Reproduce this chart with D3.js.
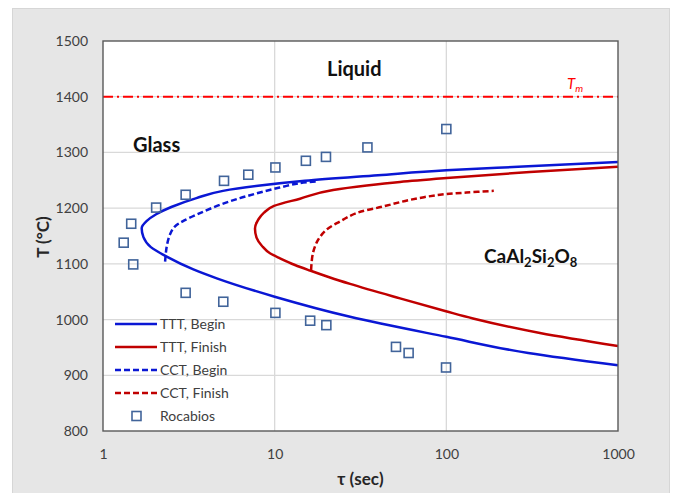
<!DOCTYPE html>
<html><head><meta charset="utf-8">
<script src="https://cdn.jsdelivr.net/npm/d3@7"></script>
<style>
html,body{margin:0;padding:0;background:#fff;}
svg{display:block;}
</style></head>
<body>
<script>
// ---- data ----
const xTicks = [1, 10, 100, 1000];
const yTicks = [800, 900, 1000, 1100, 1200, 1300, 1400, 1500];
const meltT = 1400;

const tttBegin = [
  [1000,1283],[300,1275],[100,1268],[40,1259],[15,1249],[8,1240],[5,1231],[3.5,1218],
  [2.5,1202],[2.04,1189],[1.8,1177],[1.68,1164],[1.72,1148],[1.9,1130],[2.35,1113],
  [3.36,1090],[4.6,1074],[10,1041],[27.5,1005],[100,969],[300,940],[1000,918]
];
const tttFinish = [
  [1000,1274.4],[307,1265],[100.5,1254],[53.7,1247],[34.4,1240.6],[21.9,1232.6],[14.05,1217],
  [9.91,1204],[8.67,1192],[8.05,1180],[7.68,1163],
  [7.84,1147],[8.44,1132],[9.39,1119],[10.74,1110],[13.13,1098],[16.06,1088],[21,1075.5],
  [27.5,1064],[53.7,1038],[99.5,1015],[143,1002],[351,976],[1000,952.6]
];
const cctBegin = [
  [2.30,1104],[2.35,1131],[2.45,1152],[2.62,1167],[2.94,1177],[3.67,1191],[4.8,1206],
  [6.27,1218],[8.2,1228],[10.7,1237],[14,1245],[17.5,1248]
];
const cctFinish = [
  [16.3,1089],[16.7,1119],[17.9,1143],[20,1161],[24,1176],[29.9,1191],[42.9,1203],
  [61.6,1215],[91.8,1224],[131,1228],[189,1231]
];
const rocabios = [
  [1.32,1138],[1.46,1172],[1.50,1099],[2.04,1201],[3.03,1224],[5.07,1249],[7.02,1260],
  [10.1,1273],[15.2,1285],[19.9,1292],[34.7,1309],[100,1342],
  [3.03,1048],[5.02,1032],[10.1,1012],[16.1,998],[20,990],[50.9,951],[60.3,940],[99.6,914]
];
const legendItems = [
  {label:"TTT, Begin", color:"#0a17d4", dash:null, type:"line"},
  {label:"TTT, Finish", color:"#c00000", dash:null, type:"line"},
  {label:"CCT, Begin", color:"#0a17d4", dash:"6,3", type:"line"},
  {label:"CCT, Finish", color:"#c00000", dash:"6,3", type:"line"},
  {label:"Rocabios", color:"#41649a", dash:null, type:"marker"}
];

// ---- drawing ----
const W = 673, H = 493;
const font = "Lato, 'Open Sans', sans-serif";
const svg = d3.select("body").append("svg").attr("width", W).attr("height", H);

svg.append("rect").attr("x",12.5).attr("y",8.5).attr("width",657).attr("height",485)
  .attr("fill","#e6e6e6").attr("stroke","#d6d6d6");

const L = 103, R = 618, T = 41, B = 431;
const x = d3.scaleLog().domain([1,1000]).range([L,R]);
const y = d3.scaleLinear().domain([800,1500]).range([B,T]);

svg.append("rect").attr("x",L).attr("y",T).attr("width",R-L).attr("height",B-T).attr("fill","#fff");

// grid
const g = svg.append("g");
g.selectAll("line.h").data(yTicks.filter(v=>v>800 && v<1500)).join("line")
  .attr("x1",L).attr("x2",R).attr("y1",d=>y(d)).attr("y2",d=>y(d))
  .attr("stroke","#d9d9d9").attr("stroke-width",1.3);
g.selectAll("line.v").data(xTicks.filter(v=>v>1 && v<1000)).join("line")
  .attr("y1",T).attr("y2",B).attr("x1",d=>x(d)).attr("x2",d=>x(d))
  .attr("stroke","#d9d9d9").attr("stroke-width",1.3);

// axes tick labels
const yAxis = d3.axisLeft(y).tickValues(yTicks).tickSize(0).tickPadding(15).tickFormat(d3.format("d"));
svg.append("g").attr("transform",`translate(${L},0)`).call(yAxis)
  .call(a=>a.select(".domain").remove())
  .selectAll("text").attr("font-family",font).attr("font-size",14).attr("fill","#404040");
const xAxis = d3.axisBottom(x).tickValues(xTicks).tickSize(0).tickPadding(18).tickFormat(d3.format("d"));
svg.append("g").attr("transform",`translate(0,${B})`).call(xAxis)
  .call(a=>a.select(".domain").remove())
  .selectAll("text").attr("font-family",font).attr("font-size",14).attr("fill","#404040");

// Tm line
svg.append("line").attr("x1",L).attr("x2",R).attr("y1",y(meltT)).attr("y2",y(meltT))
  .attr("stroke","#ff0000").attr("stroke-width",2).attr("stroke-dasharray","10,4,2,4");

const cLine = d3.line().x(d=>x(d[0])).y(d=>y(d[1])).curve(d3.curveMonotoneY);
const dLine = d3.line().x(d=>x(d[0])).y(d=>y(d[1])).curve(d3.curveCatmullRom.alpha(0.5));
svg.append("clipPath").attr("id","pc").append("rect")
  .attr("x",L).attr("y",T).attr("width",R-L).attr("height",B-T);
const curves = svg.append("g").attr("clip-path","url(#pc)");
curves.append("path").attr("d",dLine(cctBegin)).attr("fill","none").attr("stroke","#0a17d4")
  .attr("stroke-width",2.5).attr("stroke-dasharray","6,3");
curves.append("path").attr("d",dLine(cctFinish)).attr("fill","none").attr("stroke","#c00000")
  .attr("stroke-width",2.5).attr("stroke-dasharray","6,3");
curves.append("path").attr("d",cLine(tttBegin)).attr("fill","none").attr("stroke","#0a17d4").attr("stroke-width",2.5);
curves.append("path").attr("d",cLine(tttFinish)).attr("fill","none").attr("stroke","#c00000").attr("stroke-width",2.5);

// markers
const ms = 9;
svg.append("g").selectAll("rect").data(rocabios).join("rect")
  .attr("x",d=>x(d[0])-ms/2).attr("y",d=>y(d[1])-ms/2).attr("width",ms).attr("height",ms)
  .attr("fill","none").attr("stroke","#41649a").attr("stroke-width",1.6);

// border
svg.append("rect").attr("x",L).attr("y",T).attr("width",R-L).attr("height",B-T)
  .attr("fill","none").attr("stroke","#595959").attr("stroke-width",1.4);

// axis titles
svg.append("text").attr("x",(L+R)/2).attr("y",485).attr("text-anchor","middle")
  .attr("font-family",font).attr("font-weight","bold").attr("font-size",17).attr("fill","#262626")
  .text("τ (sec)");
svg.append("text").attr("transform",`translate(49,237) rotate(-90)`).attr("text-anchor","middle")
  .attr("font-family",font).attr("font-weight","bold").attr("font-size",17).attr("fill","#262626")
  .text("T (°C)");

// region labels
svg.append("text").attr("x",327).attr("y",76).attr("font-family",font).attr("font-weight","bold")
  .attr("font-size",20).attr("fill","#111").text("Liquid");
svg.append("text").attr("x",133).attr("y",152).attr("font-family",font).attr("font-weight","bold")
  .attr("font-size",20).attr("fill","#111").text("Glass");
const ca = svg.append("text").attr("x",484).attr("y",263).attr("font-family",font).attr("font-weight","bold")
  .attr("font-size",19).attr("fill","#111");
[["CaAl",0],["2",1],["Si",0],["2",1],["O",0],["8",1]].forEach(([t,s])=>{
  const ts = ca.append("tspan").text(t);
  if (s) ts.attr("font-size",13).attr("dy",4); else ts.attr("dy", t==="CaAl"?0:-4);
});
const tm = svg.append("text").attr("x",567).attr("y",89).attr("font-family",font)
  .attr("font-style","italic").attr("font-size",15).attr("fill","#ff0000");
tm.append("tspan").text("T");
tm.append("tspan").attr("font-size",10).attr("dy",3).text("m");

// legend
const lg = svg.append("g");
legendItems.forEach((it,i)=>{
  const yy = 324 + i*23;
  if (it.type==="line") {
    lg.append("line").attr("x1",115).attr("x2",157).attr("y1",yy).attr("y2",yy)
      .attr("stroke",it.color).attr("stroke-width",2.5).attr("stroke-dasharray",it.dash);
  } else {
    lg.append("rect").attr("x",136.5-ms/2).attr("y",yy-ms/2).attr("width",ms).attr("height",ms)
      .attr("fill","none").attr("stroke",it.color).attr("stroke-width",1.6);
  }
  lg.append("text").attr("x",160).attr("y",yy+5).attr("font-family",font).attr("font-size",14)
    .attr("fill","#404040").text(it.label);
});
</script>
</body></html>
